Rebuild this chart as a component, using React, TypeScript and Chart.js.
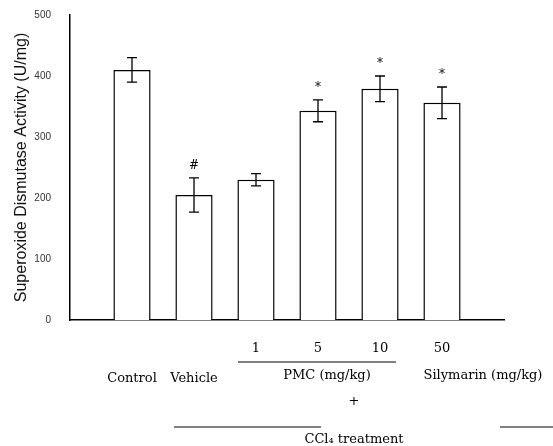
import React, { useEffect, useRef } from "react";
import { Chart, registerables } from "chart.js";

Chart.register(...registerables);

const categories: (string | string[])[] = [
  [""],
  ["", "Control"],
  ["", "Vehicle"],
  ["1"],
  ["5"],
  ["10"],
  ["50"],
  [""],
];
const groupLabels: string[] = ["PMC (mg/kg)", "Silymarin (mg/kg)"];
const sodValues: (number | null)[] = [null, 410, 205, 230, 343, 379, 356, null];
const sodErrors: (number | null)[] = [null, 20, 28, 10, 18, 21, 26, null];
const marks: string[] = ["", "", "#", "", "*", "*", "*", ""];
const yTicks: number[] = [0, 100, 200, 300, 400, 500];

const serif = "'DejaVu Serif', 'Liberation Serif', serif";
const sans = "'Liberation Sans', Arial, sans-serif";

const annotPlugin = {
  id: "annot",
  afterDatasetsDraw(chart: any) {
    const ctx = chart.ctx;
    const x = chart.scales.x;
    const y = chart.scales.y;
    ctx.save();
    ctx.strokeStyle = "#000";
    ctx.fillStyle = "#000";
    ctx.lineWidth = 1.3;
    sodValues.forEach((v, i) => {
      const e = sodErrors[i];
      if (v == null || e == null) return;
      const cx = x.getPixelForValue(i);
      const yt = y.getPixelForValue(v + e);
      const yb = y.getPixelForValue(v - e);
      ctx.beginPath();
      ctx.moveTo(cx, yt);
      ctx.lineTo(cx, yb);
      ctx.moveTo(cx - 5, yt);
      ctx.lineTo(cx + 5, yt);
      ctx.moveTo(cx - 5, yb);
      ctx.lineTo(cx + 5, yb);
      ctx.stroke();
      if (marks[i]) {
        ctx.font = `12px ${serif}`;
        ctx.textAlign = "center";
        ctx.textBaseline = "bottom";
        ctx.fillText(marks[i], cx, yt - 6);
      }
    });
    const xv = x.getPixelForValue(2);
    const x1 = x.getPixelForValue(3);
    const x5 = x.getPixelForValue(4);
    const x10 = x.getPixelForValue(5);
    const x50 = x.getPixelForValue(6);
    const xl = x.getPixelForValue(7);
    ctx.lineWidth = 1;
    ctx.beginPath();
    ctx.moveTo(x1 - 18, 362);
    ctx.lineTo(x10 + 16, 362);
    ctx.moveTo(xv - 20, 427);
    ctx.lineTo(x5 + 3, 427);
    ctx.moveTo(xl - 4, 427);
    ctx.lineTo(xl + 50, 427);
    ctx.stroke();
    ctx.font = `13px ${serif}`;
    ctx.textAlign = "center";
    ctx.textBaseline = "middle";
    ctx.fillText(groupLabels[0], x5 + 9, 376);
    ctx.fillText(groupLabels[1], (x50 + xl) / 2 + 10, 376);
    const mid = (x5 + x10) / 2 + 5;
    ctx.fillText("+", mid, 402);
    ctx.fillText("CCl\u2084 treatment", mid, 440);
    ctx.restore();
  },
};

export default function App() {
  const ref = useRef<HTMLCanvasElement>(null);
  useEffect(() => {
    document.body.style.margin = "0";
    const chart = new Chart(ref.current!, {
      type: "bar",
      data: {
        labels: categories,
        datasets: [
          {
            data: sodValues,
            backgroundColor: "#fff",
            borderColor: "#000",
            borderWidth: 1.5,
            borderSkipped: "bottom",
            barPercentage: 0.6,
            categoryPercentage: 1,
          },
        ],
      },
      options: {
        animation: false,
        responsive: false,
        layout: { padding: { top: 15, right: 49, left: 0, bottom: 0 } },
        plugins: { legend: { display: false }, tooltip: { enabled: false } },
        scales: {
          x: {
            offset: false,
            grid: { display: false, drawTicks: false },
            border: { color: "#000", width: 1.5 },
            ticks: {
              autoSkip: false,
              maxRotation: 0,
              minRotation: 0,
              color: "#000",
              padding: 14,
              font: { family: serif, size: 13, lineHeight: 2.3 },
            },
            afterFit: (s: any) => {
              s.height = 126;
              s.paddingLeft = 0;
              s.paddingRight = 0;
            },
          },
          y: {
            min: 0,
            max: 500,
            afterBuildTicks: (s: any) => {
              s.ticks = yTicks.map((v) => ({ value: v }));
            },
            grid: { display: false, drawTicks: false },
            border: { color: "#000", width: 1.5 },
            ticks: {
              color: "#333",
              padding: 19,
              font: { family: sans, size: 10 },
            },
            title: {
              display: true,
              text: "Superoxide Dismutase Activity (U/mg)",
              color: "#111",
              font: { family: sans, size: 16 },
              padding: { top: 12, bottom: 0 },
            },
            afterFit: (s: any) => {
              s.width = 70;
              s.paddingTop = 0;
              s.paddingBottom = 0;
            },
          },
        },
      },
      plugins: [annotPlugin],
    });
    return () => chart.destroy();
  }, []);
  return (
    <div style={{ position: "absolute", left: 0, top: 0, width: 553, height: 446, background: "#fff" }}>
      <canvas ref={ref} width={553} height={446} />
    </div>
  );
}
